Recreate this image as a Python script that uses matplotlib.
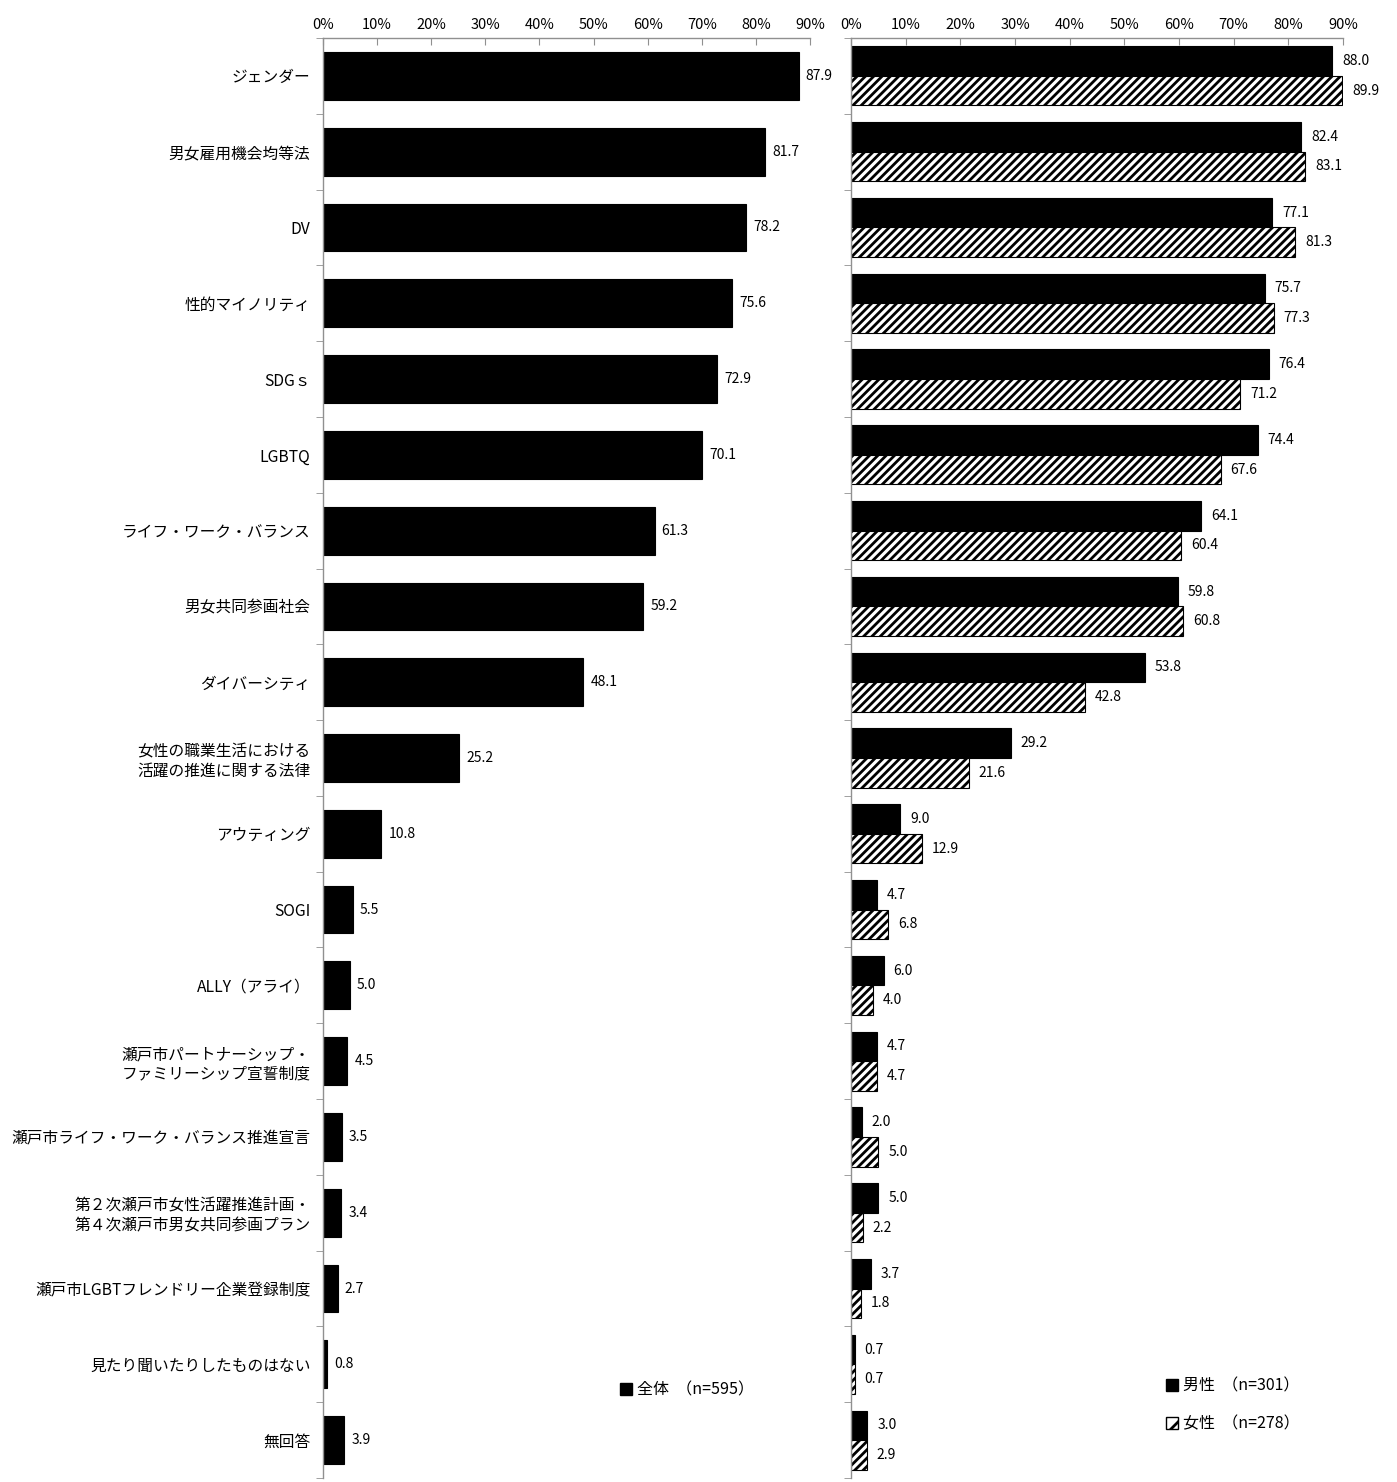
import matplotlib
matplotlib.use("Agg")
import matplotlib.pyplot as plt
import numpy as np
from matplotlib.patches import Patch

plt.rcParams['font.family'] = ['Noto Sans CJK JP', 'DejaVu Sans']
plt.rcParams['hatch.linewidth'] = 2.0

categories = [
    "ジェンダー", "男女雇用機会均等法", "DV", "性的マイノリティ", "SDGｓ", "LGBTQ",
    "ライフ・ワーク・バランス", "男女共同参画社会", "ダイバーシティ",
    "女性の職業生活における\n活躍の推進に関する法律", "アウティング", "SOGI",
    "ALLY（アライ）", "瀬戸市パートナーシップ・\nファミリーシップ宣誓制度",
    "瀬戸市ライフ・ワーク・バランス推進宣言",
    "第２次瀬戸市女性活躍推進計画・\n第４次瀬戸市男女共同参画プラン",
    "瀬戸市LGBTフレンドリー企業登録制度", "見たり聞いたりしたものはない", "無回答",
]
total = [87.9, 81.7, 78.2, 75.6, 72.9, 70.1, 61.3, 59.2, 48.1, 25.2, 10.8, 5.5,
         5.0, 4.5, 3.5, 3.4, 2.7, 0.8, 3.9]
male = [88.0, 82.4, 77.1, 75.7, 76.4, 74.4, 64.1, 59.8, 53.8, 29.2, 9.0, 4.7,
        6.0, 4.7, 2.0, 5.0, 3.7, 0.7, 3.0]
female = [89.9, 83.1, 81.3, 77.3, 71.2, 67.6, 60.4, 60.8, 42.8, 21.6, 12.9, 6.8,
          4.0, 4.7, 5.0, 2.2, 1.8, 0.7, 2.9]
xticks = [0, 10, 20, 30, 40, 50, 60, 70, 80, 90]
xticklabels = [f"{v}%" for v in xticks]
legend_total = "全体  （n=595）"
legend_male = "男性  （n=301）"
legend_female = "女性  （n=278）"

W, H = 1397, 1482
fig = plt.figure(figsize=(W / 100, H / 100), dpi=100)

bottom = 1 - 1478 / H
top = 1 - 38 / H
axL = fig.add_axes([323 / W, bottom, (810 - 323) / W, top - bottom])
axR = fig.add_axes([851 / W, bottom, (1343 - 851) / W, top - bottom])

n = len(categories)
y = np.arange(n)

spine_col = '#909090'

def style(ax):
    ax.set_xlim(0, 90)
    ax.set_ylim(n - 0.5, -0.5)
    ax.xaxis.tick_top()
    ax.set_xticks(xticks)
    ax.set_xticklabels(xticklabels, fontsize=10.5)
    ax.tick_params(axis='x', direction='in', length=5, color=spine_col, pad=4)
    for s in ['right', 'bottom']:
        ax.spines[s].set_visible(False)
    for s in ['top', 'left']:
        ax.spines[s].set_color(spine_col)
        ax.spines[s].set_linewidth(1.0)
    ax.set_yticks(np.arange(n + 1) - 0.5, minor=True)
    ax.tick_params(axis='y', which='minor', length=5, color=spine_col, direction='out')
    ax.tick_params(axis='y', which='major', length=0, pad=12)

# Left axes
style(axL)
axL.barh(y, total, height=0.63, color='black', edgecolor='black', linewidth=0.8)
axL.set_yticks(y)
axL.set_yticklabels(categories, fontsize=11.3, linespacing=1.2)
axL.tick_params(axis='y', which='major', pad=9)
for yi, v in zip(y, total):
    axL.text(v + 1.3, yi, f"{v:.1f}", va='center', ha='left', fontsize=10)

# Right axes
style(axR)
bh = 0.39
axR.barh(y - bh / 2, male, height=bh, color='black', edgecolor='black', linewidth=0.8)
axR.barh(y + bh / 2, female, height=bh, color='white', edgecolor='black',
         hatch='////', linewidth=0.8)
axR.set_yticks(y)
axR.set_yticklabels([])
for yi, v in zip(y, male):
    axR.text(v + 1.8, yi - bh / 2, f"{v:.1f}", va='center', ha='left', fontsize=10)
for yi, v in zip(y, female):
    axR.text(v + 1.8, yi + bh / 2, f"{v:.1f}", va='center', ha='left', fontsize=10)

# Legends
fig.legend(handles=[Patch(facecolor='black', edgecolor='black')], labels=[legend_total],
           loc='center left', bbox_to_anchor=(620 / W, 1 - 1390 / H), frameon=False,
           fontsize=11.5, handlelength=0.75, handleheight=0.75, handletextpad=0.3,
           borderpad=0, borderaxespad=0)
fig.legend(handles=[Patch(facecolor='black', edgecolor='black'),
                    Patch(facecolor='white', edgecolor='black', hatch='//')],
           labels=[legend_male, legend_female],
           loc='center left', bbox_to_anchor=(1166 / W, 1 - 1405 / H), frameon=False,
           fontsize=11.5, handlelength=0.75, handleheight=0.75, handletextpad=0.3,
           labelspacing=1.3, borderpad=0, borderaxespad=0)

fig.savefig("out.png", dpi=100)
